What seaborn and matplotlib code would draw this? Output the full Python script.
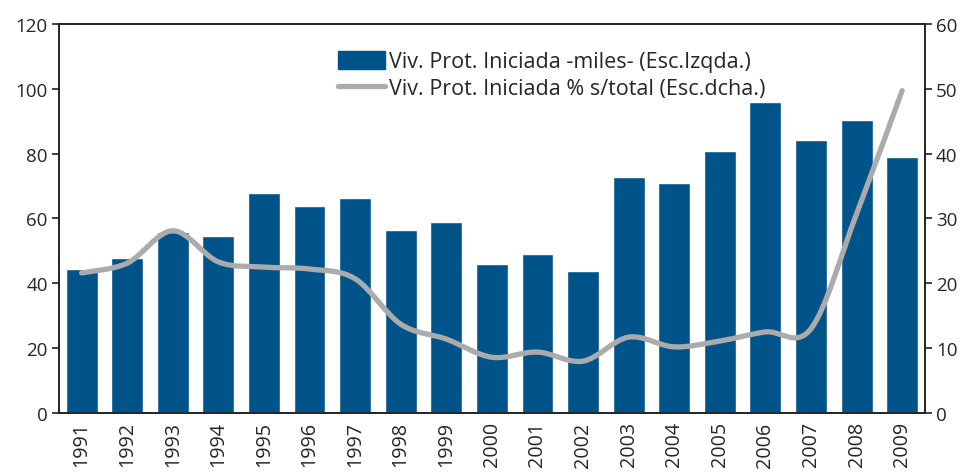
import numpy as np
import pandas as pd
import matplotlib
matplotlib.use("Agg")
import matplotlib.pyplot as plt
from matplotlib.path import Path
from matplotlib.patches import PathPatch, Patch
from matplotlib.lines import Line2D
import seaborn as sns

# DATA
years = ["1991", "1992", "1993", "1994", "1995", "1996", "1997", "1998", "1999", "2000",
         "2001", "2002", "2003", "2004", "2005", "2006", "2007", "2008", "2009"]
viv_miles = [44.4, 47.8, 55.8, 54.6, 67.9, 63.9, 66.3, 56.4, 58.9, 46.0,
             49.0, 43.8, 72.8, 70.9, 80.8, 95.9, 84.2, 90.4, 79.0]
viv_pct = [21.6, 23.1, 28.1, 23.3, 22.5, 22.2, 20.7, 13.7, 11.4, 8.6,
           9.4, 8.0, 11.7, 10.2, 11.1, 12.5, 13.0, 30.7, 49.7]
left_ticks = [0, 20, 40, 60, 80, 100, 120]
right_ticks = [0, 10, 20, 30, 40, 50, 60]

bar_label = "Viv. Prot. Iniciada -miles- (Esc.Izqda.)"
line_label = "Viv. Prot. Iniciada % s/total (Esc.dcha.)"

df = pd.DataFrame({"year": years, "miles": viv_miles, "pct": viv_pct})

sns.set_style("white")
plt.rcParams["font.family"] = ["Open Sans", "DejaVu Sans"]
plt.rcParams["text.color"] = "#262626"

blue = "#01548A"
grey = "#ABABAD"
fs = 13.5

fig = plt.figure(figsize=(9.64, 4.77), dpi=100)
ax = fig.add_axes([0.061, 0.132, 0.8985, 0.816])

sns.barplot(data=df, x="year", y="miles", color=blue, width=0.7,
            saturation=1, ax=ax)
ax.set_xlim(-0.5, len(years) - 0.5)
ax.set_ylim(0, 120)
ax.set_yticks(left_ticks)
ax.set_xlabel("")
ax.set_ylabel("")

# category separators on the x axis
ax.set_xticks(np.arange(len(years)) + 0.5, minor=True)
ax.tick_params(axis="x", which="major", length=0, labelrotation=90, labelsize=14.2, pad=6)
ax.tick_params(axis="x", which="minor", length=5, width=1.2, direction="out", color="#222222")
ax.tick_params(axis="y", length=5, width=1.2, direction="out", color="#222222", labelsize=fs, pad=3)
for s in ax.spines.values():
    s.set_color("#222222")
    s.set_linewidth(1.2)

# right axis: smoothed line via bezier path
ax2 = ax.twinx()
ax2.set_ylim(0, 60)
ax2.set_yticks(right_ticks)
ax2.tick_params(axis="y", length=5, width=1.2, direction="out", color="#222222", labelsize=fs, pad=3)
for s in ax2.spines.values():
    s.set_color("#222222")
    s.set_linewidth(1.2)

x = np.arange(len(years), dtype=float)
y = np.array(viv_pct)
verts = [(x[0], y[0])]
codes = [Path.MOVETO]
t = 1 / 6
for i in range(len(x) - 1):
    x0, y0 = (x[i - 1], y[i - 1]) if i > 0 else (x[i], y[i])
    x3, y3 = (x[i + 2], y[i + 2]) if i + 2 < len(x) else (x[i + 1], y[i + 1])
    c1 = (x[i] + (x[i + 1] - x0) * t, y[i] + (y[i + 1] - y0) * t)
    c2 = (x[i + 1] - (x3 - x[i]) * t, y[i + 1] - (y3 - y[i]) * t)
    verts += [c1, c2, (x[i + 1], y[i + 1])]
    codes += [Path.CURVE4] * 3
ax2.add_patch(PathPatch(Path(verts, codes), facecolor="none", edgecolor=grey,
                        linewidth=3.8, capstyle="round", joinstyle="round"))

handles = [Patch(facecolor=blue, edgecolor=blue),
           Line2D([0], [0], color=grey, linewidth=3.8)]
ax.legend(handles, [bar_label, line_label], loc="upper left",
          bbox_to_anchor=(0.322, 0.93), frameon=False, fontsize=15.5,
          handlelength=2.2, handleheight=0.9, handletextpad=0.2,
          labelspacing=0.25, borderaxespad=0, borderpad=0)

fig.savefig("out.png", dpi=100)
